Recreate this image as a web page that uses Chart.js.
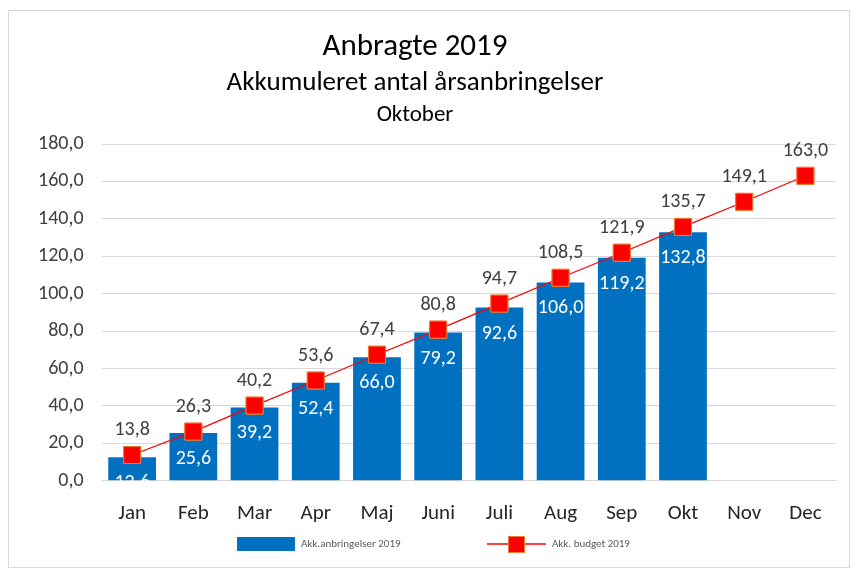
<!DOCTYPE html>
<html lang="da">
<head>
    <meta charset="UTF-8">
    <title>Anbragte 2019</title>
    <script src="https://cdn.jsdelivr.net/npm/chart.js@4/dist/chart.umd.min.js"></script>
    <style>
        body { margin: 0; background: #fff; }
        #wrap { position: absolute; left: 8px; top: 10px; width: 840px; height: 556px; border: 1px solid #d9d9d9; }
    </style>
</head>
<body>
    <div id="wrap"><canvas id="chart"></canvas></div>

    <script>
        // data
        const months = ['Jan', 'Feb', 'Mar', 'Apr', 'Maj', 'Juni', 'Juli', 'Aug', 'Sep', 'Okt', 'Nov', 'Dec'];
        const anbringelser = [12.6, 25.6, 39.2, 52.4, 66.0, 79.2, 92.6, 106.0, 119.2, 132.8, null, null];
        const budget = [13.8, 26.3, 40.2, 53.6, 67.4, 80.8, 94.7, 108.5, 121.9, 135.7, 149.1, 163.0];
        const titles = ['Anbragte 2019', 'Akkumuleret antal årsanbringelser', 'Oktober'];
        const legendNames = ['Akk.anbringelser 2019', 'Akk. budget 2019'];

        const FONT = 'Carlito, "Liberation Sans", sans-serif';
        const BLUE = '#0070C0', RED = '#FF0000', ORANGE = '#ED7D31';
        const fmt = v => v.toFixed(1).replace('.', ',');

        // titles, value labels and legend drawn on the canvas
        const decorPlugin = {
            id: 'decor',
            afterDraw(chart) {
                const ctx = chart.ctx;
                ctx.save();
                ctx.textAlign = 'center';
                ctx.textBaseline = 'middle';
                ctx.fillStyle = '#000';
                ctx.font = '31px ' + FONT;
                ctx.fillText(titles[0], 406, 36);
                ctx.font = '27px ' + FONT;
                ctx.fillText(titles[1], 406, 72);
                ctx.font = '23px ' + FONT;
                ctx.fillText(titles[2], 406, 104);

                // bar labels
                ctx.font = '20px ' + FONT;
                ctx.fillStyle = '#ffffff';
                chart.getDatasetMeta(1).data.forEach((el, i) => {
                    if (anbringelser[i] == null) return;
                    ctx.fillText(fmt(anbringelser[i]), el.x, el.y + 26);
                });
                // redraw line points on top of bar labels
                chart.getDatasetMeta(0).data.forEach(el => el.draw(ctx));
                // line labels
                ctx.fillStyle = '#404040';
                chart.getDatasetMeta(0).data.forEach((el, i) => {
                    ctx.fillText(fmt(budget[i]), el.x, el.y - 25);
                });

                // legend
                ctx.font = '11px ' + FONT;
                ctx.textAlign = 'left';
                ctx.fillStyle = BLUE;
                ctx.fillRect(228, 526, 58, 14);
                ctx.fillStyle = '#595959';
                ctx.fillText(legendNames[0], 292, 533);
                ctx.strokeStyle = RED; ctx.lineWidth = 1.5;
                ctx.beginPath(); ctx.moveTo(478, 533); ctx.lineTo(537, 533); ctx.stroke();
                ctx.fillStyle = RED; ctx.fillRect(499, 525, 17, 17);
                ctx.strokeStyle = ORANGE; ctx.lineWidth = 1;
                ctx.strokeRect(499.5, 525.5, 16, 16);
                ctx.fillStyle = '#595959';
                ctx.fillText(legendNames[1], 543, 533);
                ctx.restore();
            }
        };

        const ctx = document.getElementById('chart').getContext('2d');
        new Chart(ctx, {
            data: {
                labels: months,
                datasets: [{
                    type: 'line',
                    label: legendNames[1],
                    data: budget,
                    borderColor: RED,
                    borderWidth: 1.2,
                    pointStyle: 'rect',
                    pointRadius: 12,
                    pointBackgroundColor: RED,
                    pointBorderColor: ORANGE,
                    pointBorderWidth: 1,
                    order: 0
                }, {
                    type: 'bar',
                    label: legendNames[0],
                    data: anbringelser,
                    backgroundColor: BLUE,
                    barPercentage: 0.78,
                    categoryPercentage: 1,
                    order: 1
                }]
            },
            options: {
                responsive: true,
                maintainAspectRatio: false,
                animation: false,
                layout: { padding: { left: 11, right: 8, top: 133, bottom: 29 } },
                plugins: {
                    legend: { display: false },
                    tooltip: { enabled: false }
                },
                scales: {
                    x: {
                        grid: { display: false },
                        border: { color: '#d9d9d9' },
                        ticks: { color: '#262626', padding: 12, font: { family: FONT, size: 21 } }
                    },
                    y: {
                        min: 0,
                        max: 180,
                        ticks: {
                            stepSize: 20,
                            color: '#404040',
                            padding: 18,
                            font: { family: FONT, size: 20 },
                            callback: v => fmt(v)
                        },
                        grid: { color: '#d9d9d9', drawTicks: false },
                        border: { display: false }
                    }
                }
            },
            plugins: [decorPlugin]
        });
    </script>
</body>
</html>
